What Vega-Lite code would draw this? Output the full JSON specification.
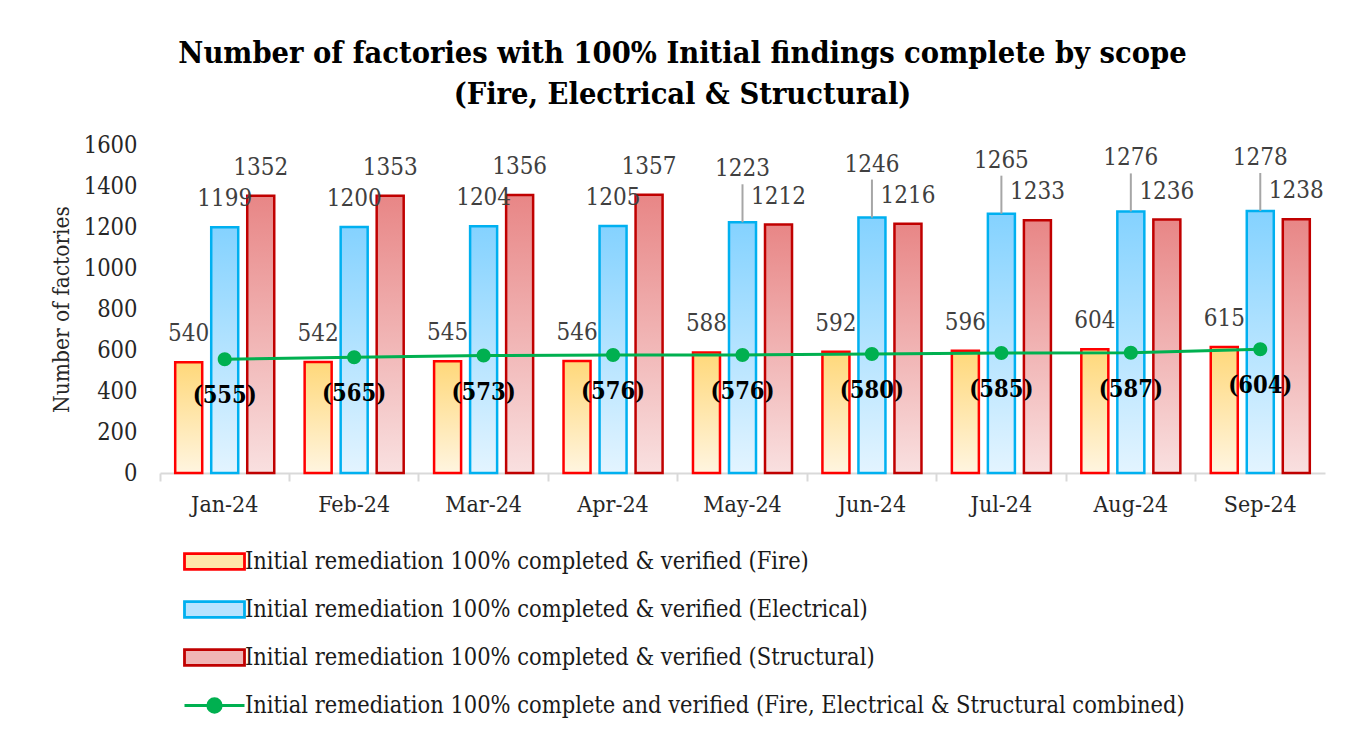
{
  "$schema": "https://vega.github.io/schema/vega-lite/v6.json",
  "width": 1165,
  "height": 328,
  "autosize": {"type": "none"},
  "padding": {"left": 160, "top": 145, "right": 27, "bottom": 259},
  "background": "white",
  "config": {
    "view": {"stroke": null},
    "font": "DejaVu Serif Condensed",
    "legend": {
      "orient": "none",
      "legendX": 38,
      "legendY": 400,
      "direction": "vertical",
      "padding": 0,
      "labelFont": "DejaVu Serif Condensed",
      "labelFontSize": 23.4,
      "labelColor": "#1A1A1A",
      "labelLimit": 1200,
      "labelOffset": 14,
      "symbolSize": 900,
      "symbolStrokeWidth": 2.8,
      "symbolOpacity": 1,
      "rowPadding": 17
    }
  },
  "title": {
    "text": ["Number of factories with 100% Initial findings complete by scope", "(Fire, Electrical & Structural)"],
    "font": "DejaVu Serif Condensed",
    "fontSize": 30.5,
    "fontWeight": "bold",
    "color": "#000000",
    "anchor": "middle",
    "frame": "group",
    "dx": -60,
    "offset": 23,
    "lineHeight": 41
  },
  "data": {
    "values": [
      {"month": "Jan-24", "series": "Fire", "value": 540},
      {"month": "Feb-24", "series": "Fire", "value": 542},
      {"month": "Mar-24", "series": "Fire", "value": 545},
      {"month": "Apr-24", "series": "Fire", "value": 546},
      {"month": "May-24", "series": "Fire", "value": 588},
      {"month": "Jun-24", "series": "Fire", "value": 592},
      {"month": "Jul-24", "series": "Fire", "value": 596},
      {"month": "Aug-24", "series": "Fire", "value": 604},
      {"month": "Sep-24", "series": "Fire", "value": 615},
      {"month": "Jan-24", "series": "Electrical", "value": 1199},
      {"month": "Feb-24", "series": "Electrical", "value": 1200},
      {"month": "Mar-24", "series": "Electrical", "value": 1204},
      {"month": "Apr-24", "series": "Electrical", "value": 1205},
      {"month": "May-24", "series": "Electrical", "value": 1223},
      {"month": "Jun-24", "series": "Electrical", "value": 1246},
      {"month": "Jul-24", "series": "Electrical", "value": 1265},
      {"month": "Aug-24", "series": "Electrical", "value": 1276},
      {"month": "Sep-24", "series": "Electrical", "value": 1278},
      {"month": "Jan-24", "series": "Structural", "value": 1352},
      {"month": "Feb-24", "series": "Structural", "value": 1353},
      {"month": "Mar-24", "series": "Structural", "value": 1356},
      {"month": "Apr-24", "series": "Structural", "value": 1357},
      {"month": "May-24", "series": "Structural", "value": 1212},
      {"month": "Jun-24", "series": "Structural", "value": 1216},
      {"month": "Jul-24", "series": "Structural", "value": 1233},
      {"month": "Aug-24", "series": "Structural", "value": 1236},
      {"month": "Sep-24", "series": "Structural", "value": 1238},
      {"month": "Jan-24", "series": "Combined", "value": 555},
      {"month": "Feb-24", "series": "Combined", "value": 565},
      {"month": "Mar-24", "series": "Combined", "value": 573},
      {"month": "Apr-24", "series": "Combined", "value": 576},
      {"month": "May-24", "series": "Combined", "value": 576},
      {"month": "Jun-24", "series": "Combined", "value": 580},
      {"month": "Jul-24", "series": "Combined", "value": 585},
      {"month": "Aug-24", "series": "Combined", "value": 587},
      {"month": "Sep-24", "series": "Combined", "value": 604}
    ]
  },
  "encoding": {
    "x": {
      "field": "month",
      "type": "nominal",
      "sort": ["Jan-24", "Feb-24", "Mar-24", "Apr-24", "May-24", "Jun-24", "Jul-24", "Aug-24", "Sep-24"],
      "scale": {"paddingInner": 0, "paddingOuter": 0},
      "axis": {
        "title": null,
        "labelAngle": 0,
        "labelFont": "DejaVu Serif Condensed",
        "labelFontSize": 23,
        "labelColor": "#262626",
        "labelPadding": 12,
        "domainColor": "#D9D9D9",
        "domainWidth": 2,
        "tickColor": "#D9D9D9",
        "tickWidth": 2,
        "tickSize": 8,
        "bandPosition": 0
      }
    },
    "y": {
      "field": "value",
      "type": "quantitative",
      "scale": {"domain": [0, 1600], "nice": false},
      "axis": {
        "values": [0, 200, 400, 600, 800, 1000, 1200, 1400, 1600],
        "format": "d",
        "grid": false,
        "domain": false,
        "ticks": false,
        "labelPadding": 23,
        "labelFont": "DejaVu Serif Condensed",
        "labelFontSize": 23.5,
        "labelColor": "#262626",
        "title": "Number of factories",
        "titleFont": "DejaVu Serif Condensed",
        "titleFontSize": 22.5,
        "titleFontWeight": "normal",
        "titleColor": "#262626",
        "titlePadding": 10
      }
    }
  },
  "layer": [
    {
      "transform": [{"filter": "datum.series !== 'Combined'"}],
      "mark": {"type": "bar", "strokeWidth": 2.5},
      "encoding": {
        "xOffset": {
          "field": "series",
          "type": "nominal",
          "sort": ["Fire", "Electrical", "Structural"],
          "scale": {"paddingInner": 0.25, "paddingOuter": 0.422}
        },
        "fill": {
          "condition": [
            {"test": "datum.series === 'Fire'", "value": {"gradient": "linear", "x1": 0, "y1": 0, "x2": 0, "y2": 1, "stops": [{"offset": 0, "color": "#FFD87A"}, {"offset": 1, "color": "#FFF5E0"}]}},
            {"test": "datum.series === 'Electrical'", "value": {"gradient": "linear", "x1": 0, "y1": 0, "x2": 0, "y2": 1, "stops": [{"offset": 0, "color": "#84D2FF"}, {"offset": 1, "color": "#E3F4FF"}]}}
          ],
          "value": {"gradient": "linear", "x1": 0, "y1": 0, "x2": 0, "y2": 1, "stops": [{"offset": 0, "color": "#E88686"}, {"offset": 1, "color": "#F9E0E0"}]}
        },
        "stroke": {
          "field": "series",
          "type": "nominal",
          "scale": {
            "domain": ["Fire", "Electrical", "Structural", "Combined"],
            "range": ["#FF0000", "#00B0F0", "#C00000", "#00B050"]
          },
          "legend": {
            "title": null,
            "labelExpr": "datum.value === 'Fire' ? 'Initial remediation 100% completed & verified (Fire)' : datum.value === 'Electrical' ? 'Initial remediation 100% completed & verified (Electrical)' : datum.value === 'Structural' ? 'Initial remediation 100% completed & verified (Structural)' : 'Initial remediation 100% complete and verified (Fire, Electrical & Structural combined)'"
          }
        }
      }
    },
    {
      "transform": [{"filter": "datum.series === 'Electrical' && indexof(['May-24','Jun-24','Jul-24','Aug-24','Sep-24'], datum.month) >= 0"}],
      "mark": {"type": "rule", "color": "#A6A6A6", "strokeWidth": 2, "y2Offset": -38},
      "encoding": {
        "xOffset": {"field": "series", "type": "nominal", "sort": ["Fire", "Electrical", "Structural"]},
        "y2": {"field": "value"}
      }
    },
    {
      "transform": [{"filter": "datum.series !== 'Combined' && !(datum.series === 'Electrical' && indexof(['May-24','Jun-24','Jul-24','Aug-24','Sep-24'], datum.month) >= 0)"}],
      "mark": {"type": "text", "dy": -28, "fontSize": 24, "font": "DejaVu Serif Condensed", "color": "#404040", "baseline": "middle"},
      "encoding": {
        "xOffset": {"field": "series", "type": "nominal", "sort": ["Fire", "Electrical", "Structural"]},
        "text": {"field": "value", "type": "quantitative"}
      }
    },
    {
      "transform": [{"filter": "datum.series === 'Electrical' && indexof(['May-24','Jun-24','Jul-24','Aug-24','Sep-24'], datum.month) >= 0"}],
      "mark": {"type": "text", "dy": -53, "fontSize": 24, "font": "DejaVu Serif Condensed", "color": "#404040", "baseline": "middle"},
      "encoding": {
        "xOffset": {"field": "series", "type": "nominal", "sort": ["Fire", "Electrical", "Structural"]},
        "text": {"field": "value", "type": "quantitative"}
      }
    },
    {
      "transform": [{"filter": "datum.series === 'Combined'"}],
      "mark": {"type": "line", "strokeWidth": 3},
      "encoding": {
        "stroke": {"field": "series", "type": "nominal"}
      }
    },
    {
      "transform": [{"filter": "datum.series === 'Combined'"}],
      "mark": {"type": "point", "filled": true, "size": 972, "opacity": 1},
      "encoding": {
        "fill": {
          "field": "series",
          "type": "nominal",
          "scale": {
            "domain": ["Fire", "Electrical", "Structural", "Combined"],
            "range": ["#FFE6A8", "#B8E3FF", "#F0B5B5", "#00B050"]
          },
          "legend": {
            "title": null,
            "labelExpr": "datum.value === 'Fire' ? 'Initial remediation 100% completed & verified (Fire)' : datum.value === 'Electrical' ? 'Initial remediation 100% completed & verified (Electrical)' : datum.value === 'Structural' ? 'Initial remediation 100% completed & verified (Structural)' : 'Initial remediation 100% complete and verified (Fire, Electrical & Structural combined)'"
          }
        },
        "shape": {
          "field": "series",
          "type": "nominal",
          "scale": {
            "domain": ["Fire", "Electrical", "Structural", "Combined"],
            "range": ["M-2,-0.53H2V0.53H-2Z", "M-2,-0.53H2V0.53H-2Z", "M-2,-0.53H2V0.53H-2Z", "M-2,0H2M-0.45,0A0.45,0.45 0 1,1 0.45,0A0.45,0.45 0 1,1 -0.45,0Z"]
          },
          "legend": {
            "title": null,
            "labelExpr": "datum.value === 'Fire' ? 'Initial remediation 100% completed & verified (Fire)' : datum.value === 'Electrical' ? 'Initial remediation 100% completed & verified (Electrical)' : datum.value === 'Structural' ? 'Initial remediation 100% completed & verified (Structural)' : 'Initial remediation 100% complete and verified (Fire, Electrical & Structural combined)'"
          }
        }
      }
    },
    {
      "transform": [{"filter": "datum.series === 'Combined'"}, {"calculate": "'(' + datum.value + ')'", "as": "label"}],
      "mark": {"type": "text", "dy": 37, "fontSize": 23.5, "fontWeight": "bold", "font": "DejaVu Serif Condensed", "color": "#000000", "baseline": "middle"},
      "encoding": {
        "text": {"field": "label", "type": "nominal"}
      }
    }
  ]
}
